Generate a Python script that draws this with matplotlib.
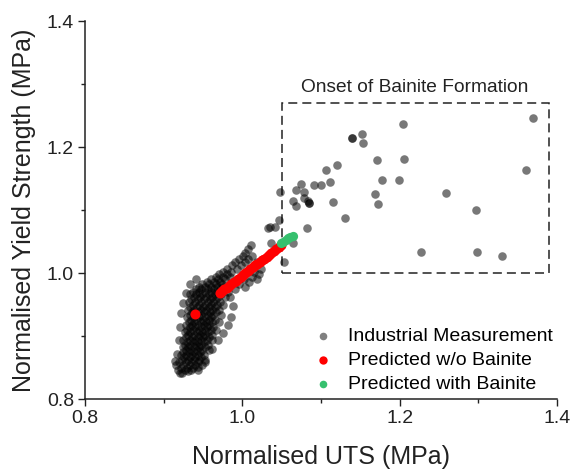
import matplotlib
matplotlib.use("Agg")
import matplotlib.pyplot as plt
from matplotlib.patches import Rectangle

plt.rcParams['font.family'] = ['Liberation Sans', 'DejaVu Sans']

# Industrial measurements: dense cluster, listed row by row (yield strength, [UTS values])
CLUSTER_ROWS = [
    (0.841, [0.921, 0.923]),
    (0.846, [0.918, 0.927, 0.935, 0.944]),
    (0.850, [0.922, 0.930, 0.937]),
    (0.854, [0.916, 0.925, 0.933, 0.940, 0.949]),
    (0.858, [0.920, 0.928, 0.935, 0.943]),
    (0.862, [0.923, 0.931, 0.938, 0.945, 0.953]),
    (0.866, [0.926, 0.933, 0.940, 0.948]),
    (0.870, [0.922, 0.929, 0.936, 0.943, 0.951]),
    (0.874, [0.925, 0.932, 0.939, 0.946]),
    (0.878, [0.928, 0.935, 0.942, 0.949, 0.957]),
    (0.882, [0.924, 0.931, 0.938, 0.945, 0.953]),
    (0.886, [0.927, 0.934, 0.941, 0.948, 0.956]),
    (0.890, [0.930, 0.937, 0.944, 0.951]),
    (0.894, [0.925, 0.933, 0.940, 0.947, 0.955, 0.962]),
    (0.898, [0.928, 0.936, 0.943, 0.950, 0.958]),
    (0.902, [0.931, 0.939, 0.946, 0.953, 0.961]),
    (0.906, [0.927, 0.934, 0.942, 0.949, 0.956]),
    (0.910, [0.930, 0.937, 0.945, 0.952, 0.960, 0.967]),
    (0.914, [0.933, 0.940, 0.948, 0.955, 0.963]),
    (0.918, [0.929, 0.936, 0.944, 0.951, 0.958]),
    (0.922, [0.932, 0.939, 0.947, 0.954, 0.962, 0.970]),
    (0.926, [0.935, 0.942, 0.950, 0.957, 0.965]),
    (0.930, [0.930, 0.938, 0.945, 0.953, 0.960]),
    (0.934, [0.933, 0.941, 0.948, 0.956, 0.963, 0.973]),
    (0.938, [0.936, 0.944, 0.951, 0.959, 0.966]),
    (0.942, [0.931, 0.939, 0.947, 0.954, 0.962, 0.970]),
    (0.946, [0.934, 0.942, 0.950, 0.957, 0.965]),
    (0.950, [0.937, 0.945, 0.953, 0.960, 0.968, 0.976]),
    (0.954, [0.932, 0.940, 0.948, 0.956, 0.963, 0.971]),
    (0.958, [0.935, 0.943, 0.951, 0.959, 0.966]),
    (0.962, [0.938, 0.946, 0.954, 0.962, 0.969, 0.978]),
    (0.966, [0.934, 0.941, 0.949, 0.957, 0.965, 0.973]),
    (0.970, [0.937, 0.945, 0.953, 0.960, 0.968, 0.982]),
    (0.974, [0.941, 0.948, 0.956, 0.964, 0.972, 0.991]),
    (0.978, [0.945, 0.952, 0.960, 0.968, 0.976, 1.003]),
    (0.982, [0.949, 0.958, 0.966, 0.974, 0.996]),
    (0.986, [0.955, 0.964, 0.972, 1.009]),
    (0.990, [0.960, 0.969, 0.978, 1.002, 1.018]),
    (0.994, [0.966, 0.975, 0.984, 1.012]),
    (0.998, [0.970, 0.980, 1.021]),
    (1.002, [0.976, 0.986, 1.015]),
    (1.007, [0.981, 0.993, 1.024]),
    (1.012, [0.987, 0.998]),
    (1.017, [0.991, 1.003, 1.019]),
    (1.022, [0.996, 1.007]),
    (1.027, [1.001, 1.012]),
    (1.032, [1.004]),
    (1.038, [1.007]),
    (1.044, [1.011]),
]

# Industrial measurements: loose points around the edge of the cluster
FRINGE_UTS = [0.914, 0.917, 0.919, 0.921, 0.922, 0.925, 0.928, 0.933, 0.941,
              0.931, 0.944, 0.952, 0.962, 0.969, 0.975, 0.982, 0.986, 0.988, 0.984]
FRINGE_YS = [0.860, 0.872, 0.893, 0.915, 0.937, 0.953, 0.968, 0.983, 0.991,
             0.844, 0.851, 0.858, 0.880, 0.893, 0.905, 0.918, 0.930, 0.947, 0.962]

# Industrial measurements: scattered points towards higher strength
SPARSE_UTS = [1.369, 1.204, 1.152, 1.140, 1.140, 1.153, 1.171, 1.206, 1.360, 1.120,
              1.106, 1.177, 1.199, 1.111, 1.100, 1.091, 1.075, 1.048, 1.068, 1.079,
              1.064, 1.068, 1.078, 1.085, 1.085, 1.083, 1.115, 1.169, 1.173, 1.259,
              1.130, 1.297, 1.082, 1.227, 1.298, 1.330, 1.053, 1.065, 1.046, 1.041,
              1.035, 1.033, 1.037]
SPARSE_YS = [1.2465, 1.2365, 1.220, 1.214, 1.214, 1.206, 1.180, 1.181, 1.1635, 1.171,
             1.1635, 1.147, 1.147, 1.144, 1.139, 1.139, 1.142, 1.128, 1.131, 1.128,
             1.114, 1.106, 1.119, 1.111, 1.111, 1.114, 1.113, 1.125, 1.110, 1.127,
             1.088, 1.1005, 1.072, 1.034, 1.034, 1.0275, 1.018, 1.047, 1.084, 1.073,
             1.073, 1.071, 1.047]

# Model prediction without bainite
PRED_NB_UTS = [0.940, 0.971, 0.974, 0.977, 0.980, 0.983, 0.986, 0.989, 0.992, 0.995,
               0.998, 1.001, 1.004, 1.007, 1.010, 1.013, 1.016, 1.019, 1.022, 1.025,
               1.028, 1.031, 1.034, 1.037, 1.040, 1.043, 1.046, 1.049]
PRED_NB_YS = [0.935, 0.968, 0.971, 0.974, 0.977, 0.980, 0.983, 0.986, 0.988, 0.991,
              0.994, 0.997, 1.000, 1.003, 1.006, 1.009, 1.012, 1.015, 1.017, 1.020,
              1.023, 1.026, 1.029, 1.032, 1.035, 1.038, 1.041, 1.044]

# Model prediction with bainite
PRED_B_UTS = [1.049, 1.052, 1.055, 1.058, 1.061, 1.064]
PRED_B_YS = [1.047, 1.050, 1.052, 1.055, 1.057, 1.059]

LEGEND_LABELS = ["Industrial Measurement", "Predicted w/o Bainite", "Predicted with Bainite"]
X_TICKS = [0.8, 1.0, 1.2, 1.4]
Y_TICKS = [0.8, 1.0, 1.2, 1.4]

im_uts = [x for _, xs in CLUSTER_ROWS for x in xs] + FRINGE_UTS + SPARSE_UTS
im_ys = [y for y, xs in CLUSTER_ROWS for _ in xs] + FRINGE_YS + SPARSE_YS

fig = plt.figure(figsize=(5.71, 4.73), dpi=100)
ax = fig.add_axes([0.1489, 0.1564, 0.8266, 0.7992])

ax.scatter(im_uts, im_ys, s=38, color="black", alpha=0.53, linewidths=0,
           label=LEGEND_LABELS[0], zorder=2)
ax.scatter(PRED_NB_UTS, PRED_NB_YS, s=52, color="#ff0000", linewidths=0,
           label=LEGEND_LABELS[1], zorder=3)
ax.scatter(PRED_B_UTS, PRED_B_YS, s=44, color="#36c06e", linewidths=0,
           label=LEGEND_LABELS[2], zorder=4)

# Region where bainite starts to form
ax.add_patch(Rectangle((1.05, 1.0), 0.34, 0.27, fill=False, edgecolor="#222222",
                       linewidth=1.1, linestyle=(0, (5.9, 3.3)), zorder=1))
ax.text(1.219, 1.294, "Onset of Bainite Formation", ha="center", va="center",
        fontsize=13.8, color="#222222")

ax.set_xlim(0.8, 1.4)
ax.set_ylim(0.8, 1.4)
ax.set_xticks(X_TICKS)
ax.set_yticks(Y_TICKS)
ax.set_xticks([0.9, 1.1, 1.3], minor=True)
ax.set_yticks([0.9, 1.1, 1.3], minor=True)
ax.set_xticklabels([f"{v:.1f}" for v in X_TICKS])
ax.set_yticklabels([f"{v:.1f}" for v in Y_TICKS])
ax.tick_params(which="major", direction="out", length=5, width=1, labelsize=14,
               colors="#222222", pad=3)
ax.tick_params(which="minor", direction="out", length=3, width=1, colors="#222222")

for side in ("top", "right"):
    ax.spines[side].set_visible(False)
for side in ("left", "bottom"):
    ax.spines[side].set_linewidth(1.1)
    ax.spines[side].set_color("#222222")

ax.set_xlabel("Normalised UTS (MPa)", fontsize=18, color="#222222", labelpad=13)
ax.set_ylabel("Normalised Yield Strength (MPa)", fontsize=18, color="#222222", labelpad=8)

leg = ax.legend(loc="lower right", bbox_to_anchor=(1.016, -0.016), frameon=False,
                fontsize=14, handlelength=0.8, handletextpad=0.9, labelspacing=0.33,
                borderaxespad=0.2)
for h, sz in zip(leg.legend_handles, (30, 36, 30)):
    h.set_alpha(None)
    h.set_sizes([sz])
leg.legend_handles[0].set_color("#808080")

fig.savefig("out.png", dpi=100)
